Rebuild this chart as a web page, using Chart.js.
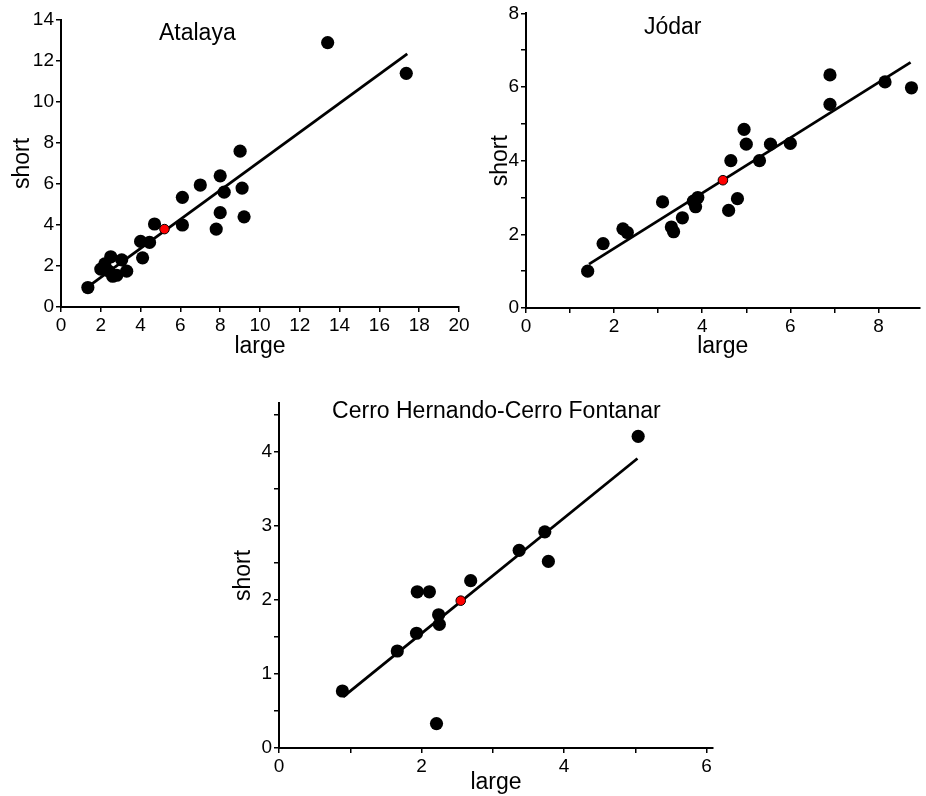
<!DOCTYPE html>
<html lang="en">
<head>
<meta charset="UTF-8">
<title>large vs short</title>
<script src="https://cdn.jsdelivr.net/npm/chart.js"></script>
<style>
    body {
        margin: 0;
        background: #fff;
        width: 926px;
        height: 796px;
        overflow: hidden;
        position: relative;
    }

    .panel {
        position: absolute;
    }
</style>
</head>
<body>
<div class="panel" style="left:0;top:0;width:475px;height:365px"><canvas id="atalayaChart"></canvas></div>
<div class="panel" style="left:470px;top:0;width:456px;height:365px"><canvas id="jodarChart"></canvas></div>
<div class="panel" style="left:220px;top:380px;width:520px;height:416px"><canvas id="cerroChart"></canvas></div>

<script>
    // Atalaya
    const atalayaLarge = [1.35, 2.0, 2.2, 2.5, 2.4, 2.6, 2.8, 3.05, 3.3, 4.0, 4.1, 4.45, 4.7, 6.1, 6.1, 7.0, 7.8, 8.0, 8.0, 8.2, 9.0, 9.1, 9.2, 13.4, 17.35];
    const atalayaShort = [0.95, 1.85, 2.1, 2.45, 1.75, 1.5, 1.55, 2.3, 1.75, 3.2, 2.4, 3.15, 4.05, 5.35, 4.0, 5.95, 3.8, 6.4, 4.6, 5.6, 7.6, 5.8, 4.4, 12.9, 11.4];
    const atalayaMean = [5.2, 3.8];
    const atalayaFitX = [1.45, 17.4];
    const atalayaFitY = [1.05, 12.35];
    const atalayaXTicks = [0, 2, 4, 6, 8, 10, 12, 14, 16, 18, 20];
    const atalayaYTicks = [0, 2, 4, 6, 8, 10, 12, 14];

    // Jódar
    const jodarLarge = [1.4, 1.75, 2.2, 2.3, 3.1, 3.3, 3.35, 3.55, 3.8, 3.85, 3.9, 4.6, 4.65, 4.8, 4.95, 5.0, 5.3, 5.55, 6.0, 6.9, 6.9, 8.15, 8.75];
    const jodarShort = [1.0, 1.75, 2.15, 2.05, 2.88, 2.2, 2.07, 2.45, 2.9, 2.75, 3.0, 2.65, 4.0, 2.97, 4.85, 4.45, 4.0, 4.45, 4.47, 6.33, 5.53, 6.14, 5.98];
    const jodarMean = [4.47, 3.47];
    const jodarFitX = [1.43, 8.73];
    const jodarFitY = [1.19, 6.67];
    const jodarXTicks = [0, 1, 2, 3, 4, 5, 6, 7, 8];
    const jodarYTicks = [0, 1, 2, 3, 4, 5, 6, 7, 8];

    // Cerro Hernando-Cerro Fontanar
    const cerroLarge = [0.89, 1.66, 1.93, 1.94, 2.11, 2.24, 2.25, 2.21, 2.69, 3.37, 3.73, 3.78, 5.04];
    const cerroShort = [0.77, 1.31, 1.55, 2.11, 2.11, 1.8, 1.67, 0.33, 2.26, 2.67, 2.92, 2.52, 4.21];
    const cerroMean = [2.55, 1.99];
    const cerroFitX = [0.9, 5.03];
    const cerroFitY = [0.69, 3.91];
    const cerroXTicks = [0, 1, 2, 3, 4, 5, 6];
    const cerroYTicks = [0, 0.5, 1, 1.5, 2, 2.5, 3, 3.5, 4, 4.5];

    const FONT = "'Liberation Sans', Arial, sans-serif";

    // draws the panel name inside the plot, placed in data units
    const panelTitle = {
        id: 'panelTitle',
        afterDraw(chart, args, opts) {
            const ctx = chart.ctx;
            ctx.save();
            ctx.font = '23px ' + FONT;
            ctx.fillStyle = '#000';
            ctx.textAlign = 'center';
            ctx.textBaseline = 'middle';
            ctx.fillText(opts.text, chart.scales.x.getPixelForValue(opts.x), chart.scales.y.getPixelForValue(opts.y));
            ctx.restore();
        }
    };

    function axis(cfg) {
        return {
            type: 'linear',
            min: 0,
            max: cfg.max,
            afterBuildTicks: (scale) => {
                scale.ticks = cfg.ticks.map(v => ({ value: v }));
            },
            afterFit: (scale) => {
                if (scale.isHorizontal()) scale.height = cfg.size;
                else scale.width = cfg.size;
            },
            border: { color: '#000', width: 2 },
            grid: { drawOnChartArea: false, drawTicks: true, tickLength: 5, color: '#000', lineWidth: 1.5 },
            ticks: {
                color: '#000',
                padding: 2,
                maxRotation: 0,
                autoSkip: false,
                font: { family: FONT, size: 19 },
                callback: (v) => (cfg.every ? (Math.abs(v / cfg.every - Math.round(v / cfg.every)) < 1e-6 ? String(v) : '') : String(v))
            },
            title: {
                display: true,
                text: cfg.title,
                color: '#000',
                font: { family: FONT, size: 23 },
                padding: cfg.titlePad
            }
        };
    }

    function makeChart(id, p) {
        new Chart(document.getElementById(id), {
            type: 'scatter',
            data: {
                datasets: [{
                    data: [{ x: p.mean[0], y: p.mean[1] }],
                    backgroundColor: '#ff0000',
                    borderColor: '#000',
                    borderWidth: 1,
                    pointRadius: 4.8,
                    order: 0
                }, {
                    data: p.large.map((x, i) => ({ x: x, y: p.short[i] })),
                    backgroundColor: '#000',
                    borderColor: '#000',
                    borderWidth: 0,
                    pointRadius: 6.6,
                    order: 1
                }, {
                    data: p.fitX.map((x, i) => ({ x: x, y: p.fitY[i] })),
                    showLine: true,
                    borderColor: '#000',
                    borderWidth: 2.8,
                    pointRadius: 0,
                    order: 2
                }]
            },
            options: {
                responsive: true,
                maintainAspectRatio: false,
                animation: false,
                events: [],
                layout: { padding: p.padding },
                plugins: {
                    legend: { display: false },
                    tooltip: { enabled: false },
                    panelTitle: p.titleAt
                },
                scales: {
                    x: axis({ max: p.xMax, ticks: p.xTicks, every: p.xEvery, size: p.xSize, title: 'large', titlePad: { top: 0, bottom: p.xTitlePad } }),
                    y: axis({ max: p.yMax, ticks: p.yTicks, every: p.yEvery, size: p.ySize, title: 'short', titlePad: { top: p.yTitlePad, bottom: 0 } })
                }
            },
            plugins: [panelTitle]
        });
    }

    makeChart('atalayaChart', {
        large: atalayaLarge, short: atalayaShort, mean: atalayaMean, fitX: atalayaFitX, fitY: atalayaFitY,
        xTicks: atalayaXTicks, yTicks: atalayaYTicks, xMax: 20, yMax: 14, xEvery: 0, yEvery: 0,
        xSize: 58, ySize: 61, xTitlePad: 5, yTitlePad: 9,
        padding: { left: 0, top: 20, right: 16, bottom: 0 },
        titleAt: { text: 'Atalaya', x: 6.85, y: 13.35 }
    });

    makeChart('jodarChart', {
        large: jodarLarge, short: jodarShort, mean: jodarMean, fitX: jodarFitX, fitY: jodarFitY,
        xTicks: jodarXTicks, yTicks: jodarYTicks, xMax: 8.93, yMax: 8, xEvery: 2, yEvery: 2,
        xSize: 57, ySize: 56, xTitlePad: 5, yTitlePad: 17,
        padding: { left: 0, top: 13, right: 0, bottom: 0 },
        titleAt: { text: 'Jódar', x: 3.33, y: 7.6 }
    });

    makeChart('cerroChart', {
        large: cerroLarge, short: cerroShort, mean: cerroMean, fitX: cerroFitX, fitY: cerroFitY,
        xTicks: cerroXTicks, yTicks: cerroYTicks, xMax: 6.09, yMax: 4.66, xEvery: 2, yEvery: 1,
        xSize: 48, ySize: 59, xTitlePad: 0, yTitlePad: 10,
        padding: { left: 0, top: 23, right: 27, bottom: 0 },
        titleAt: { text: 'Cerro Hernando-Cerro Fontanar', x: 3.05, y: 4.54 }
    });
</script>
</body>
</html>
